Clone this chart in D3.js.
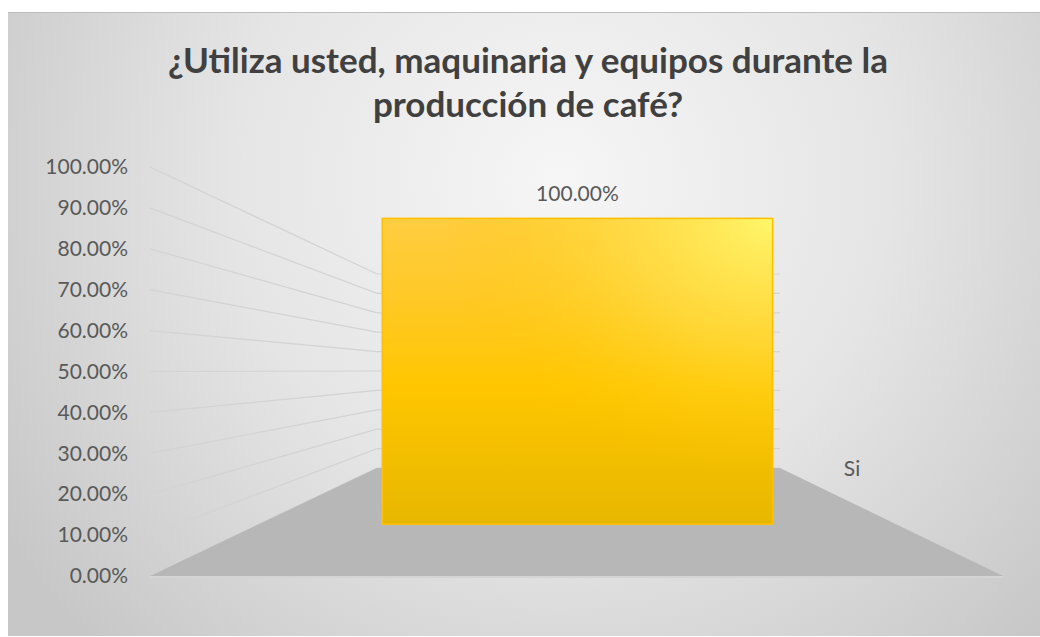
<!DOCTYPE html>
<html>
<head>
<meta charset="utf-8">
<script src="https://cdn.jsdelivr.net/npm/d3@7"></script>
<style>
  body { margin: 0; background: #fff; }
  text { font-family: Lato, "Open Sans", sans-serif; }
</style>
</head>
<body>
<div id="chart"></div>
<script>
// Data
const categories = ["Si"];
const values = [1.0];
const tickValues = [0, 0.1, 0.2, 0.3, 0.4, 0.5, 0.6, 0.7, 0.8, 0.9, 1.0];
const titleLines = ["¿Utiliza usted, maquinaria y equipos durante la", "producción de café?"];

const W = 1040, H = 637;
const fmt = d3.format(".2%");

const svg = d3.select("#chart")
  .append("svg")
    .attr("width", W)
    .attr("height", H);

const defs = svg.append("defs");

// chart area background (radial grey)
const bg = defs.append("radialGradient")
  .attr("id", "bg")
  .attr("gradientUnits", "userSpaceOnUse")
  .attr("cx", 560).attr("cy", 180).attr("r", 660);
bg.append("stop").attr("offset", 0).attr("stop-color", "#f6f6f6");
bg.append("stop").attr("offset", 0.5).attr("stop-color", "#e5e5e5");
bg.append("stop").attr("offset", 1).attr("stop-color", "#c7c7c7");

// bar fill: vertical base + light yellow glow from the top right
const barGrad = defs.append("linearGradient")
  .attr("id", "barGrad")
  .attr("x1", 0).attr("y1", 0)
  .attr("x2", 0).attr("y2", 1);
barGrad.append("stop").attr("offset", 0).attr("stop-color", "#ffcd40");
barGrad.append("stop").attr("offset", 0.25).attr("stop-color", "#ffc928");
barGrad.append("stop").attr("offset", 0.55).attr("stop-color", "#ffc600");
barGrad.append("stop").attr("offset", 1).attr("stop-color", "#e7b700");

const barGlow = defs.append("radialGradient")
  .attr("id", "barGlow")
  .attr("cx", 1).attr("cy", 0).attr("r", 0.85);
barGlow.append("stop").attr("offset", 0).attr("stop-color", "#fff66a").attr("stop-opacity", 1);
barGlow.append("stop").attr("offset", 0.45).attr("stop-color", "#ffe24a").attr("stop-opacity", 0.6);
barGlow.append("stop").attr("offset", 1).attr("stop-color", "#ffc800").attr("stop-opacity", 0);

svg.append("rect")
  .attr("x", 8).attr("y", 12)
  .attr("width", W).attr("height", H - 13)
  .attr("fill", "url(#bg)");
svg.append("line")
  .attr("x1", 8).attr("x2", W)
  .attr("y1", 12.5).attr("y2", 12.5)
  .attr("stroke", "#bdbdbd");

// 3D frame: front plane and back plane scales, interpolated by depth
const yFront = d3.scaleLinear().domain([0, 1]).range([576, 167]);
const yBack = d3.scaleLinear().domain([0, 1]).range([468, 274]);
const xFront = d3.scaleLinear().domain([0, 1]).range([150, 1003]);
const xBack = d3.scaleLinear().domain([0, 1]).range([377, 780]);
const proj = (u, d, v) => [
  xFront(u) * (1 - d) + xBack(u) * d,
  yFront(v) * (1 - d) + yBack(v) * d
];

const band = d3.scaleBand()
  .domain(categories)
  .range([0, 1])
  .paddingInner(0.24)
  .paddingOuter(0.24);
const barDepth = 0.48;

// gridlines: side wall + back wall
const gGrid = svg.append("g")
  .attr("fill", "none")
  .attr("stroke", "#d3d3d3")
  .attr("stroke-width", 1.2);
gGrid.selectAll("path")
  .data(tickValues)
  .join("path")
    .attr("d", v => d3.line()([proj(0, 0, v), proj(0, 1, v), proj(1, 1, v)]));

// floor
const floorPts = [proj(0, 0, 0), proj(1, 0, 0), proj(1, 1, 0), proj(0, 1, 0)];
svg.append("line")
  .attr("x1", floorPts[0][0]).attr("x2", floorPts[1][0])
  .attr("y1", floorPts[0][1] + 1).attr("y2", floorPts[1][1] + 1)
  .attr("stroke", "#d4d4d4")
  .attr("stroke-width", 2);
svg.append("path")
  .attr("d", d3.line()(floorPts) + "Z")
  .attr("fill", "#b7b7b7");

// bars
const bars = categories.map((c, i) => {
  const p0 = proj(band(c), barDepth, 0);
  const p1 = proj(band(c) + band.bandwidth(), barDepth, values[i]);
  return {cat: c, value: values[i], x0: p0[0], x1: p1[0], yb: p0[1], yt: p1[1]};
});

const gBar = svg.selectAll(".bar")
  .data(bars)
  .join("g")
    .attr("class", "bar");
gBar.append("rect")
  .attr("x", d => d.x0)
  .attr("y", d => d.yt)
  .attr("width", d => d.x1 - d.x0)
  .attr("height", d => d.yb - d.yt)
  .attr("fill", "url(#barGrad)");
gBar.append("rect")
  .attr("x", d => d.x0)
  .attr("y", d => d.yt)
  .attr("width", d => d.x1 - d.x0)
  .attr("height", d => d.yb - d.yt)
  .attr("fill", "url(#barGlow)")
  .attr("stroke", "#ffc000")
  .attr("stroke-width", 1.5);

// value labels
svg.selectAll(".vlabel")
  .data(bars)
  .join("text")
    .attr("class", "vlabel")
    .attr("x", d => (d.x0 + d.x1) / 2)
    .attr("y", d => d.yt - 17)
    .attr("text-anchor", "middle")
    .attr("fill", "#595959")
    .style("font-size", "21px")
    .text(d => fmt(d.value));

// category label, sits past the back right corner of the floor
svg.selectAll(".clabel")
  .data(categories)
  .join("text")
    .attr("class", "clabel")
    .attr("x", proj(1, 1, 0)[0] + 72)
    .attr("y", proj(1, 1, 0)[1] + 8)
    .attr("text-anchor", "middle")
    .attr("fill", "#595959")
    .style("font-size", "21px")
    .text(d => d);

// value axis on the front left edge
const yAxis = svg.append("g")
  .attr("transform", `translate(${xFront(0)},0)`)
  .call(d3.axisLeft(yFront).tickValues(tickValues).tickFormat(fmt).tickSize(0).tickPadding(22));
yAxis.select(".domain").remove();
yAxis.selectAll("text")
  .attr("fill", "#595959")
  .style("font-size", "21px")
  .style("font-family", "Lato, 'Open Sans', sans-serif");

// title
svg.append("text")
  .attr("text-anchor", "middle")
  .attr("fill", "#404040")
  .style("font-size", "35px")
  .style("font-weight", "bold")
  .selectAll("tspan")
  .data(titleLines)
  .join("tspan")
    .attr("x", 528)
    .attr("y", (d, i) => 73 + i * 44)
    .text(d => d);
</script>
</body>
</html>
